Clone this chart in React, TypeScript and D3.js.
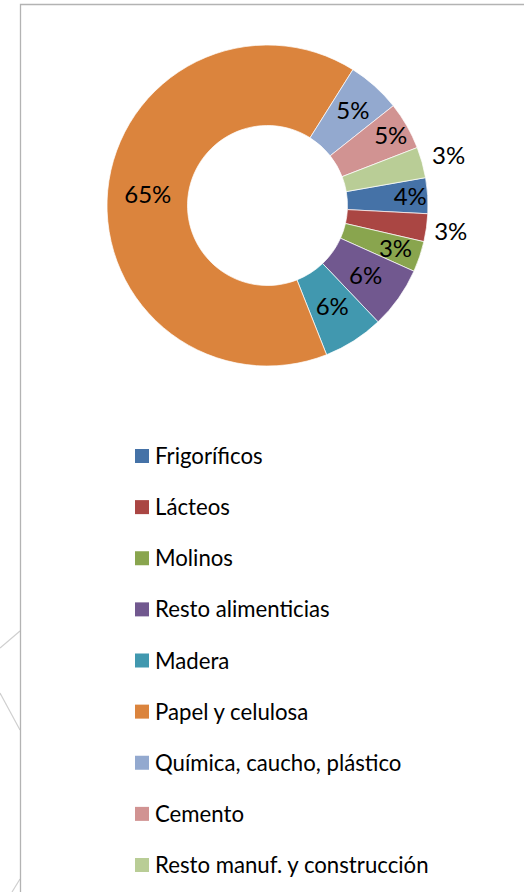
import React, { useEffect, useRef } from 'react';
import * as d3 from 'd3';

const categories = [
  'Frigoríficos',
  'Lácteos',
  'Molinos',
  'Resto alimenticias',
  'Madera',
  'Papel y celulosa',
  'Química, caucho, plástico',
  'Cemento',
  'Resto manuf. y construcción',
];
const shares = [3.6, 2.8, 3.1, 6.2, 6.1, 65.0, 5.4, 4.8, 3.1];
const colors = ['#4572A7', '#AA4643', '#89A54E', '#71588F', '#4198AF', '#DB843D', '#93A9CF', '#D19392', '#B9CD96'];

type Slice = { name: string; value: number; color: string };

const App = () => {
  const ref = useRef<SVGSVGElement>(null);

  useEffect(() => {
    const svg = d3.select(ref.current);
    svg.selectAll('*').remove();

    const data: Slice[] = categories.map((name, i) => ({ name, value: shares[i], color: colors[i] }));
    const total = d3.sum(data, (d) => d.value);

    // faint background lines outside the chart frame
    const deco = [
      [[0, 648], [20, 631]],
      [[0, 693], [20, 730]],
      [[12, 892], [20, 879]],
    ];
    svg
      .append('g')
      .selectAll('path')
      .data(deco)
      .enter()
      .append('path')
      .attr('d', (d) => d3.line()(d as [number, number][]))
      .attr('stroke', '#cfcfcf')
      .attr('stroke-width', 1.2)
      .attr('fill', 'none');

    // chart frame (only top and left edges are in view)
    svg
      .append('path')
      .attr('d', 'M20.5,900 V4.5 H540')
      .attr('fill', 'none')
      .attr('stroke', '#b3b3b3')
      .attr('stroke-width', 1.3);

    // Setup
    const cx = 267.5;
    const cy = 205.5;
    const outer = 160.5;
    const inner = 80;
    const start = (80 * Math.PI) / 180;

    const pie = d3
      .pie<Slice>()
      .value((d) => d.value)
      .sort(null)
      .startAngle(start)
      .endAngle(start + 2 * Math.PI);

    const arc = d3.arc<d3.PieArcDatum<Slice>>().innerRadius(inner).outerRadius(outer);

    const g = svg.append('g').attr('transform', `translate(${cx},${cy})`);
    const arcs = pie(data);

    g.selectAll('path')
      .data(arcs)
      .enter()
      .append('path')
      .attr('d', arc)
      .attr('fill', (d) => d.data.color)
      .attr('stroke', '#ffffff')
      .attr('stroke-width', 0.7);

    // label radius: ring middle by default, narrow slices pushed out like Excel's best fit
    const labelR: Record<string, number> = {
      'Química, caucho, plástico': 128,
      Cemento: 142,
      Frigoríficos: 143,
      Molinos: 135,
      Lácteos: 185,
      'Resto manuf. y construcción': 188,
    };

    g.selectAll('text')
      .data(arcs)
      .enter()
      .append('text')
      .attr('transform', (d) => {
        const a = (d.startAngle + d.endAngle) / 2;
        const r = labelR[d.data.name] ?? (inner + outer) / 2;
        return `translate(${r * Math.sin(a)},${-r * Math.cos(a)})`;
      })
      .attr('text-anchor', 'middle')
      .attr('dy', '0.36em')
      .style('font-family', 'Lato, "Open Sans", sans-serif')
      .style('font-size', '24px')
      .style('fill', '#000')
      .text((d) => Math.round((d.data.value / total) * 100) + '%');

    // Legend
    const y = d3
      .scalePoint<string>()
      .domain(categories)
      .range([456, 865]);

    const legend = svg
      .append('g')
      .selectAll('g')
      .data(data)
      .enter()
      .append('g')
      .attr('transform', (d) => `translate(135,${y(d.name)})`);

    legend
      .append('rect')
      .attr('x', 0)
      .attr('y', -7)
      .attr('width', 14)
      .attr('height', 14)
      .attr('fill', (d) => d.color);

    legend
      .append('text')
      .attr('x', 20)
      .attr('dy', '0.36em')
      .style('font-family', 'Lato, "Open Sans", sans-serif')
      .style('font-size', '22.2px')
      .style('fill', '#000')
      .text((d) => d.name);
  }, []);

  return (
    <svg
      ref={ref}
      width={524}
      height={892}
      style={{ position: 'absolute', left: 0, top: 0, display: 'block', background: '#fff' }}
    />
  );
};

export default App;
